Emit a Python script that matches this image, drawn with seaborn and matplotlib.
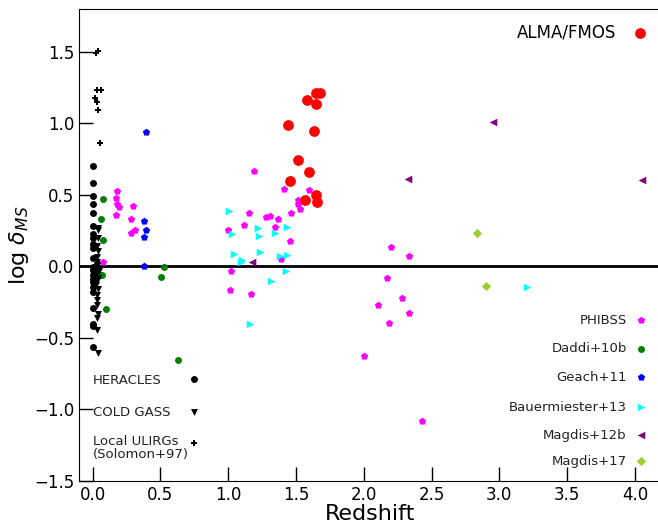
import numpy as np
import pandas as pd
import matplotlib
matplotlib.use("Agg")
import matplotlib.pyplot as plt
import seaborn as sns

# ALMA/FMOS
alma_z = [1.677, 1.646, 1.579, 1.646, 1.441, 1.633, 1.518, 1.597, 1.456, 1.651, 1.565, 1.653]
alma_d = [1.216, 1.21, 1.163, 1.137, 0.989, 0.944, 0.747, 0.658, 0.596, 0.498, 0.465, 0.451]

# PHIBSS
phibss_z = [0.182, 0.175, 0.182, 0.192, 0.175, 0.297, 0.283, 0.31, 0.28, 0.079,
            1.188, 1.156, 1.114, 0.999, 1.024, 1.41, 1.597, 1.518, 1.518, 1.528,
            1.461, 1.279, 1.311, 1.37, 1.348, 1.454, 2.204, 2.332, 1.389, 2.175,
            1.011, 1.171, 2.283, 2.103, 2.337, 2.185, 2.005, 2.428]
phibss_d = [0.525, 0.477, 0.437, 0.419, 0.361, 0.421, 0.333, 0.258, 0.232, 0.03,
            0.665, 0.375, 0.291, 0.258, -0.03, 0.542, 0.533, 0.465, 0.437, 0.405,
            0.375, 0.349, 0.351, 0.33, 0.277, 0.177, 0.135, 0.07, 0.054, -0.082,
            -0.165, -0.191, -0.219, -0.268, -0.323, -0.395, -0.628, -1.079]

# Daddi+10b
daddi_z = [0.076, 0.061, 0.074, 0.529, 0.504, 0.045, 0.054, 0.071, 0.098, 0.632]
daddi_d = [0.47, 0.333, 0.186, -0.002, -0.072, -0.058, -0.06, -0.06, -0.295, -0.656]

# Geach+11
geach_z = [0.394, 0.376, 0.396, 0.379, 0.379]
geach_d = [0.942, 0.316, 0.256, 0.209, 0.002]

# Bauermiester+13
bauer_z = [1.004, 1.026, 1.22, 1.228, 1.343, 1.434, 1.046, 1.235, 1.105, 1.094,
           1.383, 1.432, 1.43, 1.314, 1.161, 3.203]
bauer_d = [0.39, 0.226, 0.272, 0.216, 0.232, 0.275, 0.088, 0.1, 0.042, 0.028,
           0.072, 0.079, -0.03, -0.102, -0.405, -0.144]

# Magdis+12b
magdis12_z = [1.178, 2.325, 2.954, 4.049]
magdis12_d = [0.033, 0.609, 1.012, 0.605]

# Magdis+17
magdis17_z = [2.834, 2.903]
magdis17_d = [0.235, -0.135]

# HERACLES
heracles_z = [0.002, 0.002, 0.0, 0.002, 0.002, 0.0, 0.004, 0.0, 0.002, 0.002,
              0.0, 0.0, 0.0, 0.0, 0.0, 0.0, 0.0, 0.002, 0.004, 0.0, 0.002, 0.0]
heracles_d = [0.7, 0.584, 0.493, 0.435, 0.375, 0.281, 0.23, 0.2, 0.126, -0.005,
              -0.028, -0.086, -0.144, -0.179, -0.288, -0.419, -0.563, 0.16, 0.06,
              -0.06, -0.11, -0.4]

# COLD GASS
coldgass_z = [0.042, 0.038, 0.035, 0.04, 0.033, 0.036, 0.03, 0.028, 0.035, 0.04,
              0.032, 0.027, 0.038, 0.034, 0.03, 0.036, 0.04, 0.033, 0.035, 0.042,
              0.037, 0.03, 0.045]
coldgass_d = [0.27, 0.255, 0.142, 0.105, 0.065, 0.03, 0.0, -0.05, -0.02, -0.08,
              -0.1, -0.13, -0.16, -0.2, -0.237, -0.27, -0.33, -0.36, -0.447, -0.605,
              0.2, 0.01, -0.03]

# Local ULIRGs (Solomon+97)
ulirg_z = [0.022, 0.039, 0.035, 0.059, 0.015, 0.03, 0.042, 0.054]
ulirg_d = [1.491, 1.503, 1.233, 1.235, 1.177, 1.151, 1.093, 0.865]

fig = plt.figure(figsize=(6.58, 5.25), dpi=100)
ax = fig.add_axes([79 / 658, 44 / 525, 583 / 658, 472 / 525])

ax.axhline(0, color="black", lw=2, zorder=1)

groups = [
    (phibss_z, phibss_d, "magenta", "p", 30),
    (daddi_z, daddi_d, "green", "o", 25),
    (geach_z, geach_d, "blue", "p", 30),
    (bauer_z, bauer_d, "cyan", ">", 30),
    (magdis12_z, magdis12_d, "purple", "<", 30),
    (magdis17_z, magdis17_d, "yellowgreen", "D", 22),
    (heracles_z, heracles_d, "black", "o", 25),
    (coldgass_z, coldgass_d, "black", "v", 25),
    (ulirg_z, ulirg_d, "black", "P", 25),
    (alma_z, alma_d, "red", "o", 60),
]
for z, d, col, mk, s in groups:
    sns.scatterplot(x=z, y=d, color=col, marker=mk, s=s, linewidth=0, ax=ax, zorder=3)

# legend on the right
right_labels = ["PHIBSS", "Daddi+10b", "Geach+11", "Bauermiester+13", "Magdis+12b", "Magdis+17"]
right_y = [-0.377, -0.575, -0.775, -0.986, -1.181, -1.363]
right_style = [("magenta", "p", 30), ("green", "o", 25), ("blue", "p", 30),
               ("cyan", ">", 30), ("purple", "<", 30), ("yellowgreen", "D", 22)]
for lab, yy, (col, mk, s) in zip(right_labels, right_y, right_style):
    ax.scatter([4.044], [yy], color=col, marker=mk, s=s, linewidths=0, clip_on=False)
    ax.text(3.94, yy, lab, ha="right", va="center", fontsize=9.5, color="#222222")

ax.scatter([4.04], [1.633], color="red", marker="o", s=60, linewidths=0)
ax.text(3.86, 1.633, "ALMA/FMOS", ha="right", va="center", fontsize=12)

# legend on the left
left_labels = ["HERACLES", "COLD GASS", "Local ULIRGs\n(Solomon+97)"]
left_text_y = [-0.80, -1.02, -1.27]
left_mark_y = [-0.784, -1.021, -1.233]
left_style = [("o", 25), ("v", 25), ("P", 25)]
for lab, ty, my, (mk, s) in zip(left_labels, left_text_y, left_mark_y, left_style):
    ax.scatter([0.748], [my], color="black", marker=mk, s=s, linewidths=0)
    ax.text(0.0, ty, lab, ha="left", va="center", fontsize=9.5, color="#222222",
            linespacing=1.0)

ax.set_xlim(-0.1, 4.2)
ax.set_ylim(-1.5, 1.8)
ax.set_xticks(np.arange(0, 4.01, 0.5))
ax.set_yticks(np.arange(-1.5, 1.51, 0.5))
ax.tick_params(direction="in", length=10, width=1, labelsize=12)
ax.spines["right"].set_visible(False)
ax.set_xlabel("Redshift", fontsize=16, labelpad=0)
ax.set_ylabel(r"log $\delta_{MS}$", fontsize=16, labelpad=2)

fig.savefig("out.png", dpi=100)
